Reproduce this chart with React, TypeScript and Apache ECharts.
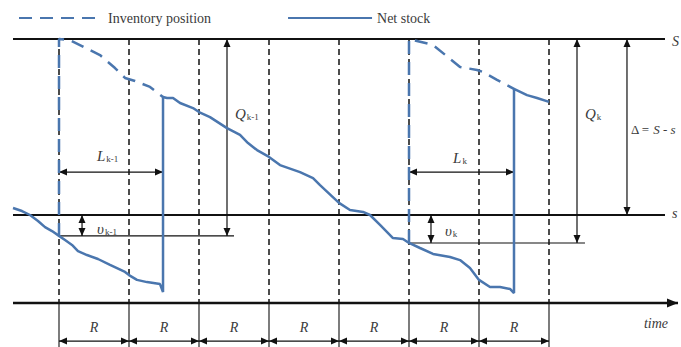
import React, { useEffect, useRef } from "react";
import * as echarts from "echarts";

// ---------- data (time in review periods R, stock in units) ----------
const S_LEVEL = 120;
const SMALL_S_LEVEL = 40;
const T_START = -0.657;
const T_END = 8.657;
const T_ARROW = 8.843;
const reviewTimes = [0, 1, 2, 3, 4, 5, 6, 7];
const periodLabels = ["R", "R", "R", "R", "R", "R", "R"];

const netStock: [number, number][] = [
  [-0.657, 43.2], [-0.529, 41.8], [-0.414, 40.0], [-0.3, 37.3], [-0.2, 34.5], [-0.1, 32.7],
  [0, 30.5], [0.086, 28.6], [0.186, 26.4], [0.271, 23.6], [0.4, 21.8], [0.557, 20.0],
  [0.729, 17.3], [0.943, 14.1], [1.0, 12.7], [1.114, 10.5], [1.257, 9.5], [1.443, 8.6],
  [1.486, 5.0], [1.486, 93.6], [1.543, 93.2], [1.629, 93.2], [1.729, 90.9], [1.914, 88.6],
  [2.0, 86.8], [2.157, 84.5], [2.4, 79.5], [2.586, 76.4], [2.7, 72.7], [2.829, 69.5],
  [3.0, 66.4], [3.157, 62.7], [3.443, 59.5], [3.629, 56.8], [3.729, 53.6], [4.0, 45.5],
  [4.157, 42.3], [4.343, 41.4], [4.443, 40.0], [4.586, 35.5], [4.771, 29.5], [4.914, 29.1],
  [5.0, 27.3], [5.157, 25.0], [5.343, 22.3], [5.586, 20.9], [5.729, 19.5], [5.871, 15.9],
  [6.0, 10.5], [6.157, 7.3], [6.3, 7.3], [6.443, 6.4], [6.5, 4.5], [6.5, 97.3],
  [6.686, 94.5], [6.829, 93.2], [7.0, 91.4],
];

const inventoryPositionA: [number, number][] = [
  [0, 30.5], [0, 120], [0.157, 119.5], [0.586, 112.7], [0.8, 106.8], [0.943, 102.3],
  [1.086, 100.9], [1.3, 98.2], [1.486, 93.6],
];
const inventoryPositionB: [number, number][] = [
  [5, 27.3], [5, 120], [5.343, 117.3], [5.729, 107.3], [5.971, 105.9], [6.057, 105.0],
  [6.257, 101.4], [6.5, 97.3],
];

// undershoots and quantities of orders k-1 and k
const undershootLevels = [30.5, 27.3];
const orderTimes = [0, 5];
const arrivalTimes = [1.486, 6.5];

// ---------- styles ----------
const BLUE = "#4a76ae";
const INK = "#111111";
const TEXT = "#3a3a3a";
const FONT = '"Liberation Serif", "Times New Roman", Times, serif';

type Seg = [number, number, number, number];

const solidThick: Seg[] = [
  [T_START, S_LEVEL, T_END, S_LEVEL],
  [T_START, SMALL_S_LEVEL, T_END, SMALL_S_LEVEL],
];
const thinGuides: Seg[] = [
  [orderTimes[0], undershootLevels[0], 2.5, undershootLevels[0]],
  [orderTimes[1], undershootLevels[1], 7.514, undershootLevels[1]],
  ...reviewTimes.map((t) => [t, 0, t, -20] as Seg),
];
const dashedVerticals: Seg[] = reviewTimes.map((t) => [t, S_LEVEL, t, 0] as Seg);

const doubleArrows: Seg[] = [
  [orderTimes[0], 59.5, arrivalTimes[0], 59.5],
  [orderTimes[1], 59.5, arrivalTimes[1], 59.5],
  [0.329, SMALL_S_LEVEL, 0.329, undershootLevels[0]],
  [5.314, SMALL_S_LEVEL, 5.314, undershootLevels[1]],
  [2.4, S_LEVEL, 2.4, undershootLevels[0]],
  [7.4, S_LEVEL, 7.4, undershootLevels[1]],
  [8.114, S_LEVEL, 8.114, SMALL_S_LEVEL],
  ...reviewTimes.slice(0, 7).map((t) => [t, -17.3, t + 1, -17.3] as Seg),
];

type Ann = { t: number; level: number; text: string; align: "left" | "center" };
const annotations: Ann[] = [
  { t: 2.514, level: 86.4, text: "{it|Q}{sub|k-1}", align: "left" },
  { t: 7.514, level: 86.4, text: "{it|Q}{sub|k}", align: "left" },
  { t: 0.543, level: 67.3, text: "{it|L}{sub|k-1}", align: "left" },
  { t: 5.63, level: 66.4, text: "{it|L}{sub|k}", align: "left" },
  { t: 0.543, level: 34.1, text: "{it|υ}{sub|k-1}", align: "left" },
  { t: 5.514, level: 33.2, text: "{it|υ}{sub|k}", align: "left" },
  { t: 8.171, level: 80, text: "{up|Δ = }{it3|S}{up| - }{it3|s}", align: "left" },
  { t: 8.757, level: 120, text: "{it2|S}", align: "left" },
  { t: 8.757, level: 41.5, text: "{it2|s}", align: "left" },
  { t: 8.529, level: -8.2, text: "{it2|time}", align: "center" },
  ...periodLabels.map((r, i) => ({ t: reviewTimes[i] + 0.5, level: -10, text: `{it2|${r}}`, align: "center" as const })),
];

const RICH = {
  it: { fontFamily: FONT, fontStyle: "italic", fontSize: 15, fill: TEXT, verticalAlign: "bottom", lineHeight: 18 },
  it2: { fontFamily: FONT, fontStyle: "italic", fontSize: 14, fill: TEXT, verticalAlign: "bottom", lineHeight: 18 },
  it3: { fontFamily: FONT, fontStyle: "italic", fontSize: 13, fill: TEXT, verticalAlign: "bottom", lineHeight: 18 },
  up: { fontFamily: FONT, fontSize: 13, fill: TEXT, verticalAlign: "bottom", lineHeight: 18 },
  sub: { fontFamily: FONT, fontSize: 9, fill: TEXT, verticalAlign: "bottom", lineHeight: 12, padding: [0, 0, 0, 1] },
};

function segmentSeries(data: Seg[], stroke: string, lineWidth: number, lineDash?: number[]) {
  return {
    type: "custom",
    coordinateSystem: "cartesian2d",
    silent: true,
    clip: false,
    data,
    renderItem: (_p: any, api: any) => {
      const a = api.coord([api.value(0), api.value(1)]);
      const b = api.coord([api.value(2), api.value(3)]);
      return {
        type: "line",
        shape: { x1: a[0], y1: a[1], x2: b[0], y2: b[1] },
        style: { stroke, lineWidth, lineDash: lineDash || null, fill: null },
      };
    },
  };
}

function head(tip: number[], from: number[], len: number, half: number) {
  const dx = tip[0] - from[0];
  const dy = tip[1] - from[1];
  const d = Math.hypot(dx, dy) || 1;
  const ux = dx / d, uy = dy / d;
  const bx = tip[0] - ux * len, by = tip[1] - uy * len;
  return {
    type: "polygon",
    shape: { points: [tip, [bx - uy * half, by + ux * half], [bx + uy * half, by - ux * half]] },
    style: { fill: INK, stroke: null },
  };
}

function arrowSeries(data: Seg[], both: boolean, lineWidth: number, len: number, half: number) {
  return {
    type: "custom",
    coordinateSystem: "cartesian2d",
    silent: true,
    clip: false,
    data,
    renderItem: (_p: any, api: any) => {
      const a = api.coord([api.value(0), api.value(1)]);
      const b = api.coord([api.value(2), api.value(3)]);
      const children: any[] = [
        { type: "line", shape: { x1: a[0], y1: a[1], x2: b[0], y2: b[1] }, style: { stroke: INK, lineWidth } },
        head(b, a, len, half),
      ];
      if (both) children.push(head(a, b, len, half));
      return { type: "group", children };
    },
  };
}

export default function App() {
  const ref = useRef<HTMLDivElement>(null);
  useEffect(() => {
    if (!ref.current) return;
    const chart = echarts.init(ref.current, undefined, { renderer: "svg" });
    chart.setOption({
      animation: false,
      backgroundColor: "#ffffff",
      grid: { left: 0, right: 0, top: 0, bottom: 0 },
      xAxis: { type: "value", min: -59 / 70, max: 622 / 70, show: false },
      yAxis: { type: "value", min: -20, max: 303 / 2.2, show: false },
      legend: {
        data: ["Inventory position", "Net stock"],
        left: 13,
        top: 6,
        itemWidth: 84,
        itemHeight: 14,
        itemGap: 76,
        selectedMode: false,
        itemStyle: { opacity: 0 },
        textStyle: { fontFamily: FONT, fontSize: 14, color: TEXT },
      },
      series: [
        segmentSeries(dashedVerticals, INK, 1.5, [6, 4]),
        segmentSeries(solidThick, INK, 2),
        segmentSeries(thinGuides, INK, 1.1),
        arrowSeries([[T_START, 0, T_ARROW, 0]], false, 2.5, 11, 4.5),
        arrowSeries(doubleArrows, true, 1.2, 8, 3.5),
        {
          name: "Inventory position",
          type: "line",
          data: inventoryPositionA,
          symbol: "none",
          lineStyle: { color: BLUE, width: 2.5, type: [13, 8] },
          itemStyle: { color: BLUE },
        },
        {
          name: "Inventory position",
          type: "line",
          data: inventoryPositionB,
          symbol: "none",
          lineStyle: { color: BLUE, width: 2.5, type: [13, 8] },
          itemStyle: { color: BLUE },
        },
        {
          name: "Net stock",
          type: "line",
          data: netStock,
          symbol: "none",
          lineStyle: { color: BLUE, width: 2.5 },
          itemStyle: { color: BLUE },
        },
        {
          type: "custom",
          coordinateSystem: "cartesian2d",
          silent: true,
          clip: false,
          data: annotations.map((a) => [a.t, a.level]),
          renderItem: (p: any, api: any) => {
            const a = annotations[p.dataIndex];
            const pt = api.coord([a.t, a.level]);
            return {
              type: "text",
              x: pt[0],
              y: pt[1],
              style: {
                text: a.text,
                rich: RICH,
                fill: TEXT,
                font: `14px ${FONT}`,
                align: a.align,
                verticalAlign: "middle",
              },
            };
          },
        },
      ],
    });
    return () => chart.dispose();
  }, []);
  return <div ref={ref} style={{ position: "fixed", left: 0, top: 0, width: 681, height: 347 }} />;
}
